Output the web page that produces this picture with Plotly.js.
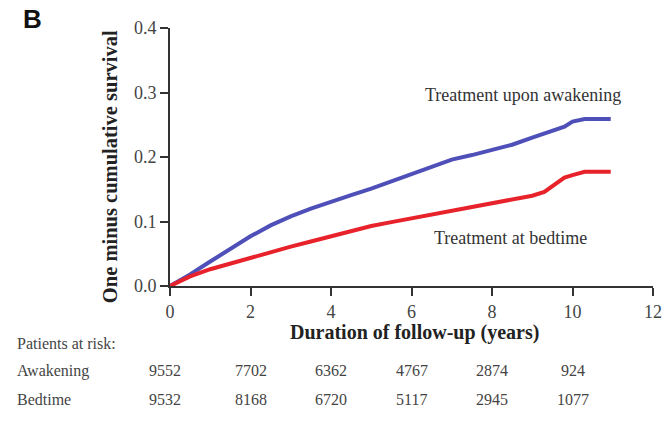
<!DOCTYPE html>
<html><head><meta charset="utf-8">
<script src="https://cdn.plot.ly/plotly-3.0.1.min.js"></script>
<style>html,body{margin:0;padding:0;background:#fff}#chart{width:665px;height:423px}</style>
</head><body><div id="chart"></div>
<script>
const awakeningYears = [0,0.5,1,1.5,2,2.5,3,3.5,4,4.5,5,5.5,6,6.5,7,7.5,8,8.5,9,9.5,9.8,10,10.3,10.95];
const awakeningRisk  = [0,0.018,0.038,0.058,0.077,0.094,0.108,0.120,0.131,0.141,0.151,0.162,0.173,0.185,0.196,0.203,0.211,0.219,0.230,0.240,0.247,0.255,0.259,0.259];
const bedtimeYears = [0,0.5,1,1.5,2,2.5,3,3.5,4,4.5,5,5.5,6,6.5,7,7.5,8,8.5,9,9.3,9.6,9.8,10,10.3,10.95];
const bedtimeRisk  = [0,0.015,0.026,0.035,0.043,0.052,0.061,0.069,0.077,0.086,0.093,0.099,0.105,0.111,0.117,0.122,0.128,0.134,0.140,0.146,0.160,0.168,0.172,0.177,0.177];
const riskYears = [0,2,4,6,8,10];
const riskAwakening = [9552,7702,6362,4767,2874,924];
const riskBedtime = [9532,8168,6720,5117,2945,1077];
const xTicks = [0,2,4,6,8,10,12];
const yTicks = [0,0.1,0.2,0.3,0.4];

const serif = "Liberation Serif, Times New Roman, serif";
const traces = [
  {x: awakeningYears, y: awakeningRisk, type:'scatter', mode:'lines', line:{color:'#4f4fb9', width:4, shape:'linear'}, name:'Awakening'},
  {x: bedtimeYears, y: bedtimeRisk, type:'scatter', mode:'lines', line:{color:'#e8222b', width:4, shape:'linear'}, name:'Bedtime'}
];
const tfont = {family:serif, size:16, color:'#444'};
const ann = [
  {text:'<b>B</b>', xref:'paper', yref:'paper', x:-0.308, y:1.035, xanchor:'left', yanchor:'middle', showarrow:false, font:{family:'Liberation Sans, Arial, sans-serif', size:26, color:'#111'}},
  {text:'Treatment upon awakening', xref:'x', yref:'y', x:8.77, y:0.296, showarrow:false, font:{family:serif, size:18, color:'#333'}},
  {text:'Treatment at bedtime', xref:'x', yref:'y', x:8.45, y:0.074, showarrow:false, font:{family:serif, size:18, color:'#333'}},
  {text:'<b>Duration of follow-up (years)</b>', xref:'paper', yref:'paper', x:0.507, y:-0.182, xanchor:'center', yanchor:'middle', showarrow:false, font:{family:serif, size:20, color:'#222'}},
  {text:'<b>One minus cumulative survival</b>', xref:'paper', yref:'paper', x:-0.124, y:0.461, textangle:-90, xanchor:'center', yanchor:'middle', showarrow:false, font:{family:serif, size:20.5, color:'#222'}},
  {text:'Patients at risk:', xref:'paper', yref:'paper', x:-0.321, y:-0.221, xanchor:'left', yanchor:'middle', showarrow:false, font:tfont},
  {text:'Awakening', xref:'paper', yref:'paper', x:-0.321, y:-0.329, xanchor:'left', yanchor:'middle', showarrow:false, font:tfont},
  {text:'Bedtime', xref:'paper', yref:'paper', x:-0.321, y:-0.438, xanchor:'left', yanchor:'middle', showarrow:false, font:tfont}
];
riskYears.forEach((yr,i)=>{
  ann.push({text:String(riskAwakening[i]), xref:'x', yref:'paper', x:yr, y:-0.329, xanchor:'center', yanchor:'middle', xshift:(i===0?-5:0), showarrow:false, font:tfont});
  ann.push({text:String(riskBedtime[i]), xref:'x', yref:'paper', x:yr, y:-0.438, xanchor:'center', yanchor:'middle', xshift:(i===0?-5:0), showarrow:false, font:tfont});
});
const layout = {
  width:665, height:423,
  margin:{l:170, r:12, t:28, b:137},
  paper_bgcolor:'#fff', plot_bgcolor:'#fff',
  showlegend:false,
  xaxis:{range:[0,12], tickvals:xTicks, ticks:'outside', ticklen:8, tickwidth:2, tickcolor:'#333',
    showline:true, linecolor:'#333', linewidth:2, showgrid:false, zeroline:false,
    tickfont:{family:serif, size:18, color:'#444'}, fixedrange:true},
  yaxis:{range:[0,0.4], tickvals:yTicks, tickformat:'.1f', ticks:'outside', ticklen:8, tickwidth:2, tickcolor:'#333',
    showline:true, linecolor:'#333', linewidth:2, showgrid:false, zeroline:false,
    tickfont:{family:serif, size:18, color:'#444'}, fixedrange:true},
  annotations: ann
};
Plotly.newPlot('chart', traces, layout, {displayModeBar:false, staticPlot:true});
</script></body></html>
